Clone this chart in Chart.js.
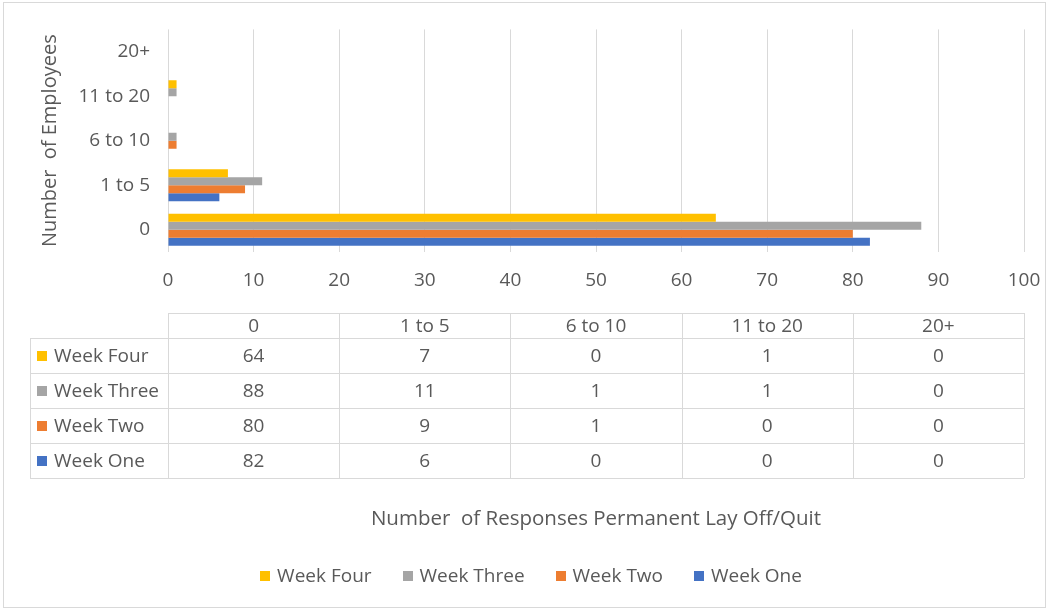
<!DOCTYPE html>
<html>
<head>
<meta charset="utf-8">
<script src="https://cdn.jsdelivr.net/npm/chart.js@4.4.1/dist/chart.umd.min.js"></script>
<style>
  html, body { margin: 0; padding: 0; background: #fff; }
  #wrap { width: 1049px; height: 611px; position: relative; }
</style>
</head>
<body>
<div id="wrap"><canvas id="chart"></canvas></div>
<script>
const categories = ['0', '1 to 5', '6 to 10', '11 to 20', '20+'];
// series listed top to bottom, as in the table and legend
const seriesNames = ['Week Four', 'Week Three', 'Week Two', 'Week One'];
const weekFour = [64, 7, 0, 1, 0];
const weekThree = [88, 11, 1, 1, 0];
const weekTwo = [80, 9, 1, 0, 0];
const weekOne = [82, 6, 0, 0, 0];
const colors = ['#FFC000', '#A5A5A5', '#ED7D31', '#4472C4'];
const xMin = 0, xMax = 100, xStep = 10;

const FONT = '"Open Sans", "Liberation Sans", sans-serif';
const TEXT = '#595959';
const LINE = '#D9D9D9';
const SIZE = 19;

// data table, legend and outer frame
const extras = {
	id: 'extras',
	afterDraw(chart) {
		const ctx = chart.ctx;
		const area = chart.chartArea;
		const sets = chart.data.datasets;
		const colW = (area.right - area.left) / categories.length;
		const headTop = 313, headBot = 338, rowH = 35;
		const tabLeft = 30;
		const tabBot = headBot + rowH * sets.length;

		ctx.save();
		ctx.strokeStyle = LINE;
		ctx.lineWidth = 1;
		ctx.beginPath();
		ctx.moveTo(area.left, headTop + 0.5); ctx.lineTo(area.right, headTop + 0.5);
		for (let r = 0; r <= sets.length; r++) {
			const y = headBot + r * rowH + 0.5;
			ctx.moveTo(tabLeft, y); ctx.lineTo(area.right, y);
		}
		ctx.moveTo(tabLeft + 0.5, headBot); ctx.lineTo(tabLeft + 0.5, tabBot);
		for (let c = 0; c <= categories.length; c++) {
			const x = Math.round(area.left + c * colW) + 0.5;
			ctx.moveTo(x, headTop); ctx.lineTo(x, tabBot);
		}
		ctx.stroke();

		ctx.font = SIZE + 'px ' + FONT;
		ctx.fillStyle = TEXT;
		ctx.textBaseline = 'middle';
		ctx.textAlign = 'center';
		categories.forEach((c, i) => {
			ctx.fillText(c, area.left + (i + 0.5) * colW, (headTop + headBot) / 2 + 1);
		});
		sets.forEach((ds, r) => {
			const yc = headBot + r * rowH + rowH / 2 + 1;
			ctx.textAlign = 'center';
			ctx.fillStyle = TEXT;
			ds.data.forEach((v, i) => {
				ctx.fillText(String(v), area.left + (i + 0.5) * colW, yc);
			});
			ctx.fillStyle = ds.backgroundColor;
			ctx.fillRect(37, Math.round(yc - 6), 10, 10);
			ctx.fillStyle = TEXT;
			ctx.textAlign = 'left';
			ctx.fillText(ds.label, 54, yc);
		});

		// legend
		const gapBox = 7, gapItem = 31, ly = 576;
		const widths = sets.map(ds => 10 + gapBox + ctx.measureText(ds.label).width);
		const total = widths.reduce((a, b) => a + b, 0) + gapItem * (sets.length - 1);
		let lx = 531 - total / 2;
		ctx.textAlign = 'left';
		sets.forEach((ds, i) => {
			ctx.fillStyle = ds.backgroundColor;
			ctx.fillRect(Math.round(lx), ly - 5, 10, 10);
			ctx.fillStyle = TEXT;
			ctx.fillText(ds.label, lx + 10 + gapBox, ly + 1);
			lx += widths[i] + gapItem;
		});

		ctx.strokeStyle = LINE;
		ctx.strokeRect(3.5, 2.5, 1042, 605);
		ctx.restore();
	}
};

new Chart(document.getElementById('chart'), {
	type: 'bar',
	data: {
		labels: categories,
		datasets: [weekFour, weekThree, weekTwo, weekOne].map((d, i) => ({
			label: seriesNames[i],
			data: d,
			backgroundColor: colors[i],
			categoryPercentage: 0.72,
			barPercentage: 1,
		})),
	},
	options: {
		indexAxis: 'y',
		responsive: true,
		maintainAspectRatio: false,
		animation: false,
		layout: { padding: { left: 30, top: 28, right: 25, bottom: 0 } },
		plugins: {
			legend: { display: false },
			tooltip: { enabled: false },
		},
		scales: {
			x: {
				min: xMin, max: xMax,
				afterFit: (scale) => {
					scale.height = 359;
					scale.paddingLeft = 0;
					scale.paddingRight = 0;
				},
				grid: { color: LINE, drawTicks: false },
				border: { display: false },
				ticks: { stepSize: xStep, padding: 17, color: TEXT, font: { family: FONT, size: SIZE } },
				title: {
					display: true,
					text: 'Number  of Responses Permanent Lay Off/Quit',
					color: TEXT,
					font: { family: FONT, size: 20.5 },
					padding: { top: 0, bottom: 80 },
				},
			},
			y: {
				reverse: true,
				afterFit: (scale) => { scale.width = 138; },
				grid: { display: false, drawTicks: false },
				border: { display: false },
				ticks: { padding: 18, color: TEXT, font: { family: FONT, size: SIZE } },
				title: {
					display: true,
					text: 'Number  of Employees',
					color: TEXT,
					font: { family: FONT, size: 20 },
					padding: { top: 8, bottom: 0 },
				},
			},
		},
	},
	plugins: [extras],
});
</script>
</body>
</html>
